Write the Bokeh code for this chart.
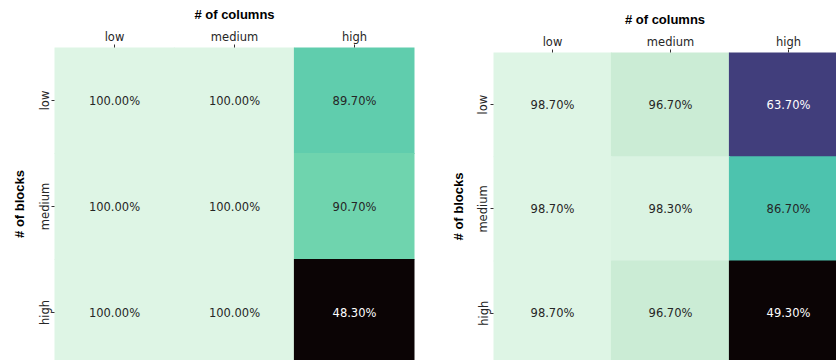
from bokeh.core.properties import value
from bokeh.embed import file_html
from bokeh.layouts import row
from bokeh.models import ColumnDataSource, FixedTicker, LinearColorMapper, Range1d
from bokeh.plotting import figure
from bokeh.resources import INLINE
from bokeh.transform import transform

# Levels shared by both axes
levels = ["low", "medium", "high"]

# Accuracy (%) per (# of blocks, # of columns); rows are blocks, columns are columns
left_values = [
    [100.0, 100.0, 89.7],
    [100.0, 100.0, 90.7],
    [100.0, 100.0, 48.3],
]
right_values = [
    [98.7, 96.7, 63.7],
    [98.7, 98.3, 86.7],
    [98.7, 96.7, 49.3],
]

# "mako"-style sequential colour ramp, dark to light
mako_stops = [
    (0.000, "#0b0405"),
    (0.143, "#2e1e3b"),
    (0.286, "#413d7b"),
    (0.429, "#37659e"),
    (0.571, "#348fa7"),
    (0.714, "#40b7ad"),
    (0.757, "#4dc3ae"),
    (0.800, "#60cdad"),
    (0.820, "#6fd4ae"),
    (0.857, "#8ad9b1"),
    (0.930, "#b9e6c6"),
    (0.960, "#cbecd5"),
    (1.000, "#def5e5"),
]


def hex_rgb(h):
    h = h.lstrip("#")
    return tuple(int(h[i:i + 2], 16) for i in (0, 2, 4))


def build_palette(stops, n=256):
    out = []
    for i in range(n):
        t = i / (n - 1)
        for (t0, c0), (t1, c1) in zip(stops[:-1], stops[1:]):
            if t0 <= t <= t1:
                f = (t - t0) / (t1 - t0) if t1 > t0 else 0.0
                a, b = hex_rgb(c0), hex_rgb(c1)
                rgb = [round(a[k] + (b[k] - a[k]) * f) for k in range(3)]
                out.append("#%02x%02x%02x" % tuple(rgb))
                break
    return out


PALETTE = build_palette(mako_stops)


def luminance(hexcol):
    vals = []
    for c in hex_rgb(hexcol):
        c = c / 255
        vals.append(c / 12.92 if c <= 0.03928 else ((c + 0.055) / 1.055) ** 2.4)
    return 0.2126 * vals[0] + 0.7152 * vals[1] + 0.0722 * vals[2]


def annot_color(v, lo, hi):
    idx = int((v - lo) / (hi - lo) * len(PALETTE)) if hi > lo else 0
    idx = max(0, min(len(PALETTE) - 1, idx))
    return "#262626" if luminance(PALETTE[idx]) > 0.408 else "#ffffff"


TICK_FONT = value("DejaVu Sans")


def heatmap(values, width, border_left, border_right, border_top, x_end, y_start):
    flat = [v for r in values for v in r]
    lo, hi = min(flat), max(flat)
    mapper = LinearColorMapper(palette=PALETTE, low=lo, high=hi)

    xs, ys, vs, labels, tcols = [], [], [], [], []
    for ri, r in enumerate(values):
        for ci, v in enumerate(r):
            xs.append(ci)
            ys.append(ri)
            vs.append(v)
            labels.append("%.2f%%" % v)
            tcols.append(annot_color(v, lo, hi))
    src = ColumnDataSource(dict(x=xs, y=ys, v=vs, label=labels, tcol=tcols))

    p = figure(
        width=width, height=360,
        x_range=Range1d(-0.5, x_end),
        y_range=Range1d(start=y_start, end=-0.5),
        x_axis_location="above",
        output_backend="svg", toolbar_location=None,
        min_border_left=border_left, min_border_right=border_right,
        min_border_top=border_top, min_border_bottom=0,
        frame_align=False,
    )
    # slight overlap so neighbouring cells of equal colour join without seams
    p.rect(x="x", y="y", width=1.01, height=1.01, source=src,
           fill_color=transform("v", mapper), line_color=None)
    p.text(x="x", y="y", text="label", source=src, text_color="tcol",
           text_align="center", text_baseline="middle",
           text_font=TICK_FONT, text_font_size="11.5px")

    p.grid.visible = False
    p.outline_line_color = None
    for ax in (p.xaxis, p.yaxis):
        ax.ticker = FixedTicker(ticks=[0, 1, 2])
        ax.major_label_overrides = {i: lab for i, lab in enumerate(levels)}
        ax.axis_line_color = None
        ax.minor_tick_line_color = None
        ax.major_tick_in = 0
        ax.major_tick_out = 3
        ax.major_tick_line_color = "#333333"
        ax.major_label_text_font = "DejaVu Sans"
        ax.major_label_text_font_size = "11.5px"
        ax.major_label_text_color = "#262626"
        ax.axis_label_text_font = "Liberation Sans"
        ax.axis_label_text_font_style = "bold"
        ax.axis_label_text_font_size = "13px"
        ax.axis_label_text_color = "#000000"
    p.xaxis.major_label_standoff = 1
    p.xaxis.axis_label_standoff = 5
    p.yaxis.major_label_standoff = 0
    p.yaxis.axis_label_standoff = 8
    p.xaxis.axis_label = "# of columns"
    p.yaxis.axis_label = "# of blocks"
    p.yaxis.major_label_orientation = "vertical"
    return p


left = heatmap(left_values, 440, 54, 26, 47, 2.5, -0.5 + 313 / 106)
right = heatmap(right_values, 396, 53, 0, 52, -0.5 + 343 / 118, -0.5 + 308 / 104.3)

layout = row(left, right)
open("out.html", "w").write(file_html(layout, INLINE))
